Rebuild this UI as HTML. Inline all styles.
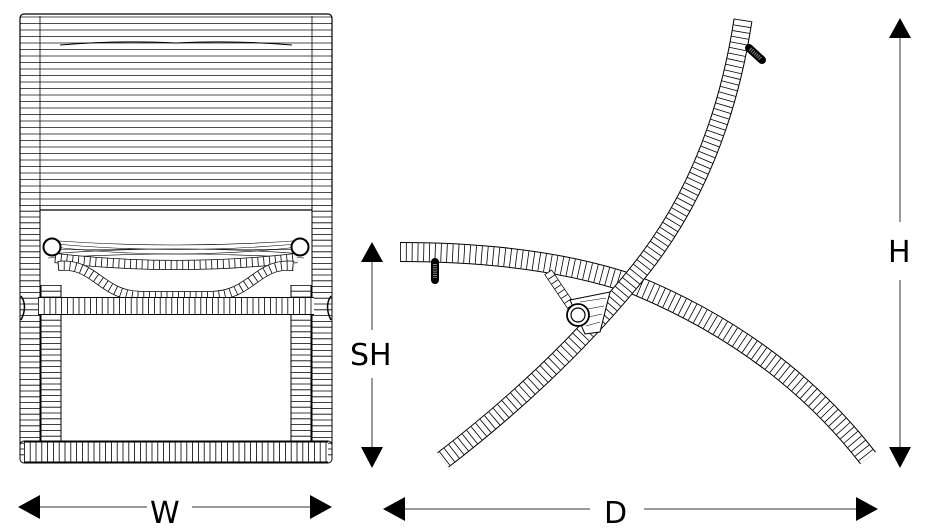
<!DOCTYPE html>
<html><head><meta charset="utf-8"><style>
html,body{margin:0;padding:0;background:#fff;}
svg{display:block}
.o{fill:none;stroke:#000;stroke-linecap:butt}
.w{fill:none;stroke:#fff;stroke-linecap:butt}
.r{fill:none;stroke:#000;stroke-dasharray:0.8 5;stroke-linecap:butt}
.t{font-family:"DejaVu Sans","Liberation Sans",sans-serif;font-size:30px;fill:#000;font-weight:normal}
.dim{stroke:#9a9a9a;stroke-width:2}
</style></head><body>
<svg width="937" height="531" viewBox="0 0 937 531" xmlns="http://www.w3.org/2000/svg">
<defs>
<pattern id="hl" width="10" height="6.5" patternUnits="userSpaceOnUse" y="16">
<line x1="0" y1="1" x2="10" y2="1" stroke="#000" stroke-width="0.7"/>
</pattern>
</defs>

<!-- FRONT VIEW -->
<rect x="20" y="14" width="312" height="196" rx="4" fill="url(#hl)" stroke="#000" stroke-width="1.2"/>
<line x1="40" y1="16" x2="40" y2="210" stroke="#000" stroke-width="0.8"/>
<line x1="312" y1="16" x2="312" y2="210" stroke="#000" stroke-width="0.8"/>
<path d="M60,45 Q120,40 176,43 Q232,40 292,45" fill="none" stroke="#000" stroke-width="1"/>
<g>
<path class="o" stroke-width="21" d="M30,205 V458"/><path class="w" stroke-width="19" d="M30,205 V458"/><path class="r" stroke-width="19" d="M30,205 V458"/>
<path class="o" stroke-width="21" d="M322,205 V458"/><path class="w" stroke-width="19" d="M322,205 V458"/><path class="r" stroke-width="19" d="M322,205 V458"/>
<path class="o" stroke-width="21" d="M51,285 V444"/><path class="w" stroke-width="19" d="M51,285 V444"/><path class="r" stroke-width="19" d="M51,285 V444"/>
<path class="o" stroke-width="21" d="M301,285 V444"/><path class="w" stroke-width="19" d="M301,285 V444"/><path class="r" stroke-width="19" d="M301,285 V444"/>
</g>
<path class="o" stroke-width="21" d="M24,452 H328"/><path class="w" stroke-width="19" d="M24,452 H328"/><path class="r" stroke-width="19" d="M24,452 H328"/>
<rect x="20" y="441" width="312" height="22" rx="4" fill="none" stroke="#000" stroke-width="1"/>
<g fill="none" stroke="#000" stroke-width="0.6">
<path d="M45,240 Q176,250 307,240"/><path d="M45,243 Q176,256 307,243"/><path d="M45,246 Q176,262 307,246"/>
<path d="M45,250 Q176,248 307,250"/><path d="M48,254 Q176,244 304,254"/><path d="M48,258 Q176,250 304,258"/>
</g>
<path class="o" stroke-width="10" d="M55,258 Q176,272 297,258"/><path class="w" stroke-width="8.5" d="M55,258 Q176,272 297,258"/><path class="r" stroke-width="8.5" d="M55,258 Q176,272 297,258"/>
<path class="o" stroke-width="10" d="M58,266 C95,262 100,295 140,296 H212 C252,295 257,262 294,266"/><path class="w" stroke-width="8.5" d="M58,266 C95,262 100,295 140,296 H212 C252,295 257,262 294,266"/><path class="r" stroke-width="8.5" d="M58,266 C95,262 100,295 140,296 H212 C252,295 257,262 294,266"/>
<path class="o" stroke-width="18" d="M38,306 H314"/><path class="w" stroke-width="16" d="M38,306 H314"/><path class="r" stroke-width="16" d="M38,306 H314"/>
<path d="M21,296 Q28,306 21,320 M331,296 Q324,306 331,320" fill="none" stroke="#000" stroke-width="1.5"/>
<circle cx="52" cy="247" r="8.5" fill="#fff" stroke="#000" stroke-width="2"/>
<circle cx="300" cy="247" r="8.5" fill="#fff" stroke="#000" stroke-width="2"/>

<!-- SIDE VIEW -->
<g>
<path class="o" stroke-width="20" d="M400,252 Q540,252 635,285 Q780,345 868,458"/>
<path class="w" stroke-width="18" d="M400,252 Q540,252 635,285 Q780,345 868,458"/>
<path class="r" stroke-width="18" d="M400,252 Q540,252 635,285 Q780,345 868,458"/>
</g>
<path class="o" stroke-width="9" d="M548,272 L575,312"/><path class="w" stroke-width="7.5" d="M548,272 L575,312"/><path class="r" stroke-width="7.5" d="M548,272 L575,312"/>
<g>
<path class="o" stroke-width="19" d="M743,20 Q720,170 640,270 Q560,370 443,460"/>
<path class="w" stroke-width="17" d="M743,20 Q720,170 640,270 Q560,370 443,460"/>
<path class="r" stroke-width="17" d="M743,20 Q720,170 640,270 Q560,370 443,460"/>
</g>
<path d="M570,300 L610,292 L600,332 L585,334 Z" fill="#fff" stroke="#000" stroke-width="1"/>
<path d="M580,302 L606,298 M582,310 L604,306 M584,318 L602,314 M586,326 L600,322" stroke="#000" stroke-width="0.6"/>
<circle cx="578" cy="315" r="11" fill="#fff" stroke="#000" stroke-width="1.8"/>
<circle cx="578" cy="315" r="7" fill="#fff" stroke="#000" stroke-width="1.2"/>
<path d="M435,262 V280" stroke="#000" stroke-width="8" stroke-linecap="round"/>
<path d="M435,264 V278" stroke="#888" stroke-width="4" stroke-dasharray="1 1.2"/>
<path d="M749,48 L762,60" stroke="#000" stroke-width="8" stroke-linecap="round"/>
<path d="M750,49 L761,59" stroke="#888" stroke-width="4" stroke-dasharray="1 1.2"/>

<!-- DIMENSIONS -->
<line class="dim" x1="900" y1="38" x2="900" y2="222"/>
<line class="dim" x1="900" y1="280" x2="900" y2="450"/>
<polygon points="900,18 889,38 911,38" fill="#000"/>
<polygon points="900,468 889,447 911,447" fill="#000"/>
<text class="t" x="888" y="262">H</text>
<line class="dim" x1="372" y1="262" x2="372" y2="330"/>
<line class="dim" x1="372" y1="378" x2="372" y2="450"/>
<polygon points="372,242 361,262 383,262" fill="#000"/>
<polygon points="372,468 361,447 383,447" fill="#000"/>
<text class="t" x="350" y="365">SH</text>
<line class="dim" x1="38" y1="507" x2="147" y2="507"/>
<line class="dim" x1="192" y1="507" x2="313" y2="507"/>
<polygon points="18,507 40,495 40,519" fill="#000"/>
<polygon points="332,507 310,495 310,519" fill="#000"/>
<text class="t" x="150" y="523">W</text>
<line class="dim" x1="402" y1="509" x2="590" y2="509"/>
<line class="dim" x1="644" y1="509" x2="858" y2="509"/>
<polygon points="383,509 405,497 405,521" fill="#000"/>
<polygon points="878,509 856,497 856,521" fill="#000"/>
<text class="t" x="604" y="523">D</text>
</svg>
</body></html>
